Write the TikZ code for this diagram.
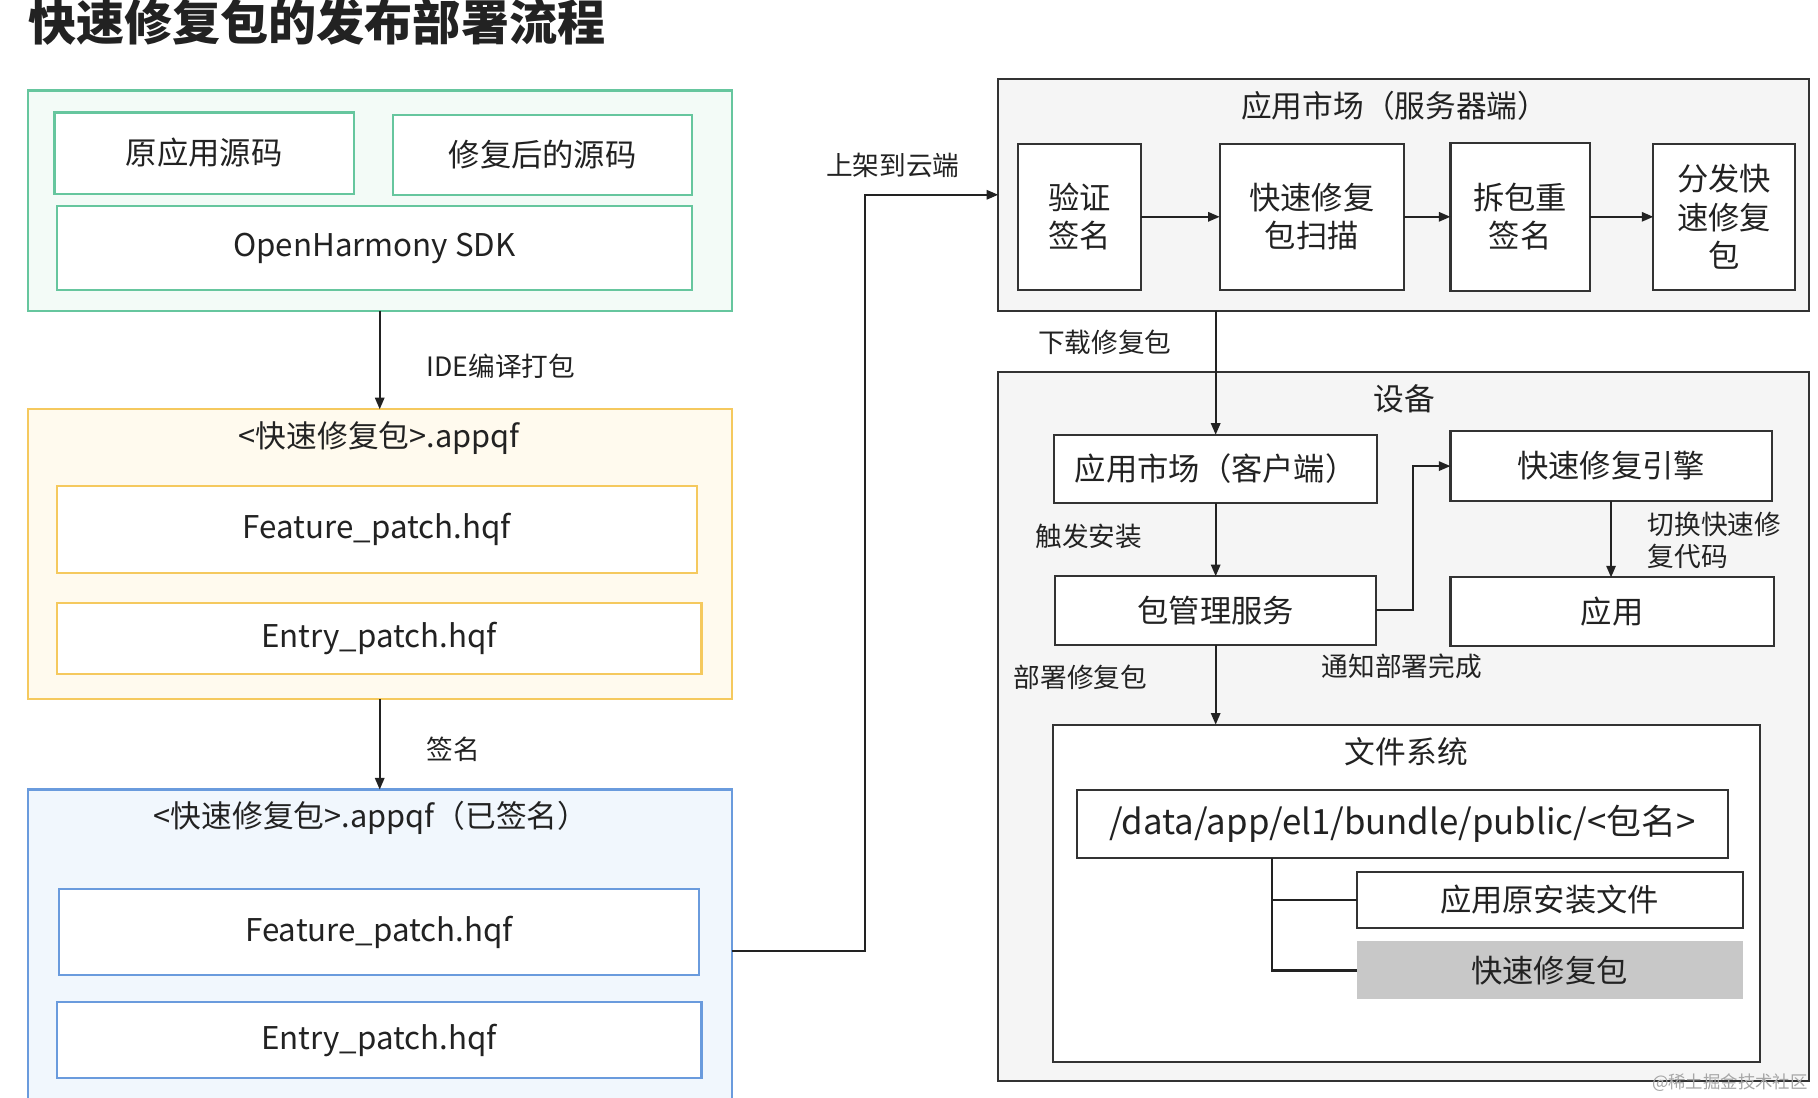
\documentclass[tikz,border=0pt]{standalone}
\usepackage{fontspec}
\setmainfont{Noto Sans CJK SC}
\usetikzlibrary{arrows.meta}
\definecolor{txt}{HTML}{222222}
\definecolor{gline}{HTML}{66C69E}
\definecolor{gfill}{HTML}{F3FBF7}
\definecolor{yline}{HTML}{F5C95E}
\definecolor{yfill}{HTML}{FFFAEE}
\definecolor{bline}{HTML}{6A9BDD}
\definecolor{bfill}{HTML}{F1F7FD}
\definecolor{dline}{HTML}{333333}
\definecolor{dfill}{HTML}{F5F5F5}
\definecolor{qfill}{HTML}{C8C8C8}
\tikzset{
  bx/.style={rectangle, inner sep=0pt, outer sep=0pt, line width=1.8pt, text=txt, font=\fontsize{27}{33}\selectfont, align=center},
  gbox/.style={bx, draw=gline, fill=white},
  ybox/.style={bx, draw=yline, fill=white},
  bbox/.style={bx, draw=bline, fill=white},
  dbox/.style={bx, draw=dline, fill=white},
  outer/.style={rectangle, inner sep=0pt, outer sep=0pt, line width=1.9pt},
  ttl/.style={text=txt, font=\fontsize{26.5}{32}\selectfont, inner sep=0pt},
  lbl/.style={text=txt, font=\fontsize{23}{28}\selectfont, inner sep=0pt, align=left},
  arr/.style={-{Triangle[length=10pt,width=8pt]}, line width=1.8pt, draw=txt},
  ln/.style={line width=1.8pt, draw=txt},
}
\begin{document}
\begin{tikzpicture}[x=1pt,y=-1pt]
\useasboundingbox[fill=white] (0,0) rectangle (1568,947);

% title
\node[text=txt, font=\fontsize{41.5}{46}\selectfont\bfseries, inner sep=0pt, anchor=west] (title) at (24,19) {快速修复包的发布部署流程};

% green group
\node[outer, draw=gline, fill=gfill, minimum width=607pt, minimum height=190pt] (green) at (327.5,173) {};
\node[gbox, minimum width=258pt, minimum height=70pt] (src1) at (176,132) {原应用源码};
\node[gbox, minimum width=258pt, minimum height=69pt] (src2) at (468,133.5) {修复后的源码};
\node[gbox, minimum width=548pt, minimum height=72pt] (sdk) at (323,214) {OpenHarmony SDK};

% yellow group
\node[outer, draw=yline, fill=yfill, minimum width=607pt, minimum height=250pt] (yellow) at (327.5,478) {};
\node[ttl] (ytitle) at (327,378) {<快速修复包>.appqf};
\node[ybox, minimum width=552pt, minimum height=75pt] (yf) at (325,456.5) {Feature\_patch.hqf};
\node[ybox, minimum width=556pt, minimum height=61pt] (ye) at (327,550.5) {Entry\_patch.hqf};

% blue group
\node[outer, draw=bline, fill=bfill, minimum width=607pt, minimum height=279pt] (blue) at (327.5,820.5) {};
\node[ttl] (btitle) at (320,705) {<快速修复包>.appqf（已签名）};
\node[bbox, minimum width=552pt, minimum height=74pt] (bf) at (327,804) {Feature\_patch.hqf};
\node[bbox, minimum width=556pt, minimum height=66pt] (be) at (327,897) {Entry\_patch.hqf};

% left arrows
\draw[arr] (green.south) -- (yellow.north);
\node[lbl] (l1) at (432,316) {IDE编译打包};
\draw[arr] (yellow.south) -- (blue.north);
\node[lbl] (l2) at (391,646) {签名};

% server
\node[outer, draw=dline, fill=dfill, minimum width=699pt, minimum height=200pt] (server) at (1210.5,168) {};
\node[ttl] (stitle) at (1203,91) {应用市场（服务器端）};
\node[dbox, minimum width=106pt, minimum height=126pt] (s1) at (931,187) {验证\\签名};
\node[dbox, minimum width=159pt, minimum height=126pt] (s2) at (1131.5,187) {快速修复\\包扫描};
\node[dbox, minimum width=120pt, minimum height=128pt] (s3) at (1311,187) {拆包重\\签名};
\node[dbox, minimum width=122pt, minimum height=126pt] (s4) at (1487,187) {分发快\\速修复\\包};
\draw[arr] (s1.east) -- (s2.west);
\draw[arr] (s2.east) -- (s3.west);
\draw[arr] (s3.east) -- (s4.west);

% upload connector
\coordinate (up) at (746,168);
\draw[arr] (blue.east) -| (up) -- (server.west);
\node[lbl] (l3) at (770,143) {上架到云端};

% device
\node[outer, draw=dline, fill=dfill, minimum width=699pt, minimum height=611pt] (device) at (1210.5,626.5) {};
\node[ttl] (dtitle) at (1211,344) {设备};
\node[dbox, minimum width=279pt, minimum height=59pt] (mkc) at (1048.5,404.5) {应用市场（客户端）};
\node[dbox, minimum width=277pt, minimum height=60pt] (eng) at (1389.5,402) {快速修复引擎};
\node[dbox, minimum width=277pt, minimum height=59pt] (pms) at (1048.5,526.5) {包管理服务};
\node[dbox, minimum width=279pt, minimum height=59pt] (app) at (1390.5,527.5) {应用};

\draw[arr] (server.south -| mkc.north) -- (mkc.north);
\node[lbl] (l4) at (953,295) {下载修复包};
\draw[arr] (mkc.south) -- (pms.north);
\node[lbl] (l5) at (939,463) {触发安装};
\draw[arr] (pms.east) -- ++(32,0) |- (eng.west);
\node[lbl] (l6) at (1209,575) {通知部署完成};
\draw[arr] (eng.south) -- (eng.south |- app.north);
\node[lbl, anchor=west] (l7) at (1421,466) {切换快速修\\复代码};

% file system
\node[dbox, minimum width=610pt, minimum height=291pt] (fs) at (1213,770.5) {};
\draw[arr] (pms.south) -- (pms.south |- fs.north);
\node[lbl] (l8) at (932,584) {部署修复包};
\node[ttl] (ftitle) at (1213,648) {文件系统};
\node[dbox, minimum width=561pt, minimum height=59pt, font=\fontsize{30}{36}\selectfont] (path) at (1209.5,710.5) {/data/app/el1/bundle/public/<包名>};
\node[dbox, minimum width=333pt, minimum height=48pt] (orig) at (1336.5,776) {应用原安装文件};
\node[bx, fill=qfill, minimum width=333pt, minimum height=50pt] (qf) at (1336.5,837) {快速修复包};
\coordinate (tx) at (1097,740);
\draw[ln] (tx) |- (qf.west);
\draw[ln] (tx |- orig.west) -- (orig.west);

% watermark
\node[text=black!35, font=\fontsize{15}{18}\selectfont, inner sep=0pt] (wm) at (1492,934) {@稀土掘金技术社区};
\end{tikzpicture}
\end{document}
